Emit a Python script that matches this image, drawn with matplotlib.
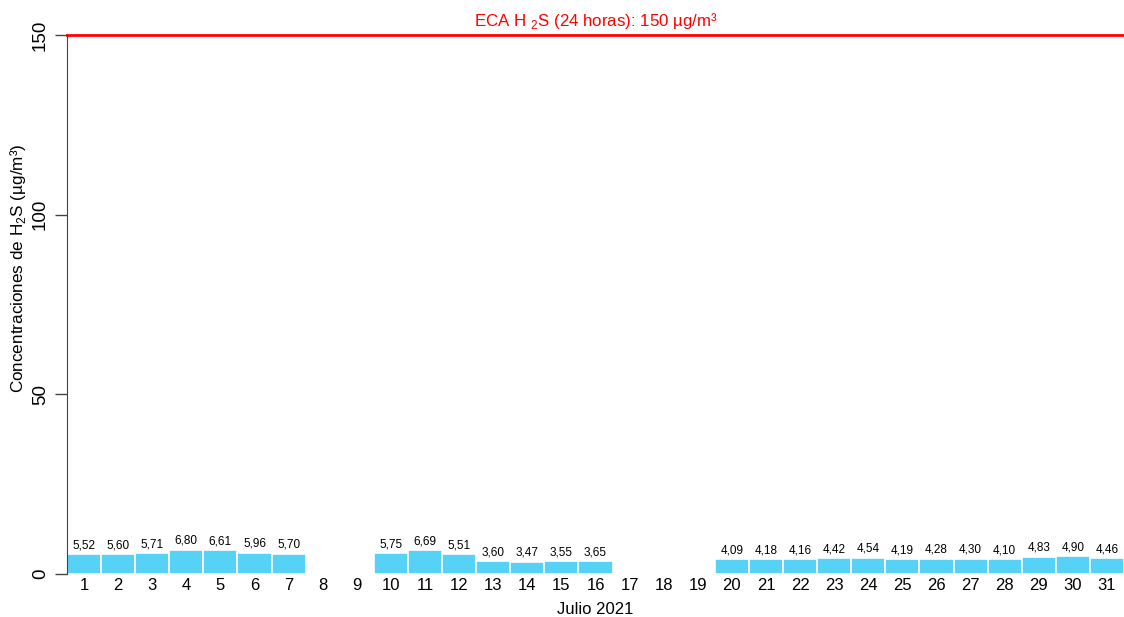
import numpy as np
import matplotlib
matplotlib.use("Agg")
import matplotlib.pyplot as plt

# Concentraciones diarias de H2S, julio 2021 (NaN = sin dato)
dias = list(range(1, 32))
valores = [5.52, 5.60, 5.71, 6.80, 6.61, 5.96, 5.70, np.nan, np.nan, 5.75,
           6.69, 5.51, 3.60, 3.47, 3.55, 3.65, np.nan, np.nan, np.nan, 4.09,
           4.18, 4.16, 4.42, 4.54, 4.19, 4.28, 4.30, 4.10, 4.83, 4.90, 4.46]
eca = 150
yticks = [0, 50, 100, 150]

plt.rcParams['font.family'] = ['Liberation Sans', 'DejaVu Sans']
plt.rcParams['mathtext.fontset'] = 'custom'
plt.rcParams['mathtext.rm'] = 'Liberation Sans'

fig = plt.figure(figsize=(11.24, 6.17), dpi=100)
ax = fig.add_axes([67/1124, 43/617, 1 - 67/1124, 539/617])

x = np.arange(len(dias)) + 0.5
v = np.array(valores)
ax.bar(x, np.nan_to_num(v), width=1.0, color='#55D2F6', edgecolor='white', linewidth=1.2)
for xi, vi in zip(x, v):
    if not np.isnan(vi):
        ax.annotate(f"{vi:.2f}".replace('.', ','), (xi, vi), xytext=(0, 2),
                    textcoords='offset points', ha='center', va='bottom', fontsize=8.5)

ax.axhline(eca, color='#FF0000', linewidth=2, clip_on=False)
ax.text(15.5, eca + 1.2, "ECA H $_2$S (24 horas): 150 µg/m³", color='#FF0000',
        ha='center', va='bottom', fontsize=12.2, clip_on=False)

ax.set_xlim(0, 31)
ax.set_ylim(0, 150)
for s in ['top', 'right', 'bottom']:
    ax.spines[s].set_visible(False)
ax.spines['left'].set_color('#444444')
ax.set_yticks(yticks)
ax.set_yticklabels([str(t) for t in yticks], rotation=90, va='center', fontsize=13.5)
ax.tick_params(axis='y', length=9, width=1, color='#444444', pad=4)
ax.set_xticks(x)
ax.set_xticklabels([str(d) for d in dias], fontsize=12)
ax.tick_params(axis='x', length=0, pad=3)
ax.set_xlabel("Julio 2021", fontsize=12, labelpad=6)

fig.text(0.016, 0.566, "Concentraciones de H$_2$S (µg/m³)", rotation=90,
         ha='center', va='center', fontsize=12.3)

fig.savefig("out.png", dpi=100)
